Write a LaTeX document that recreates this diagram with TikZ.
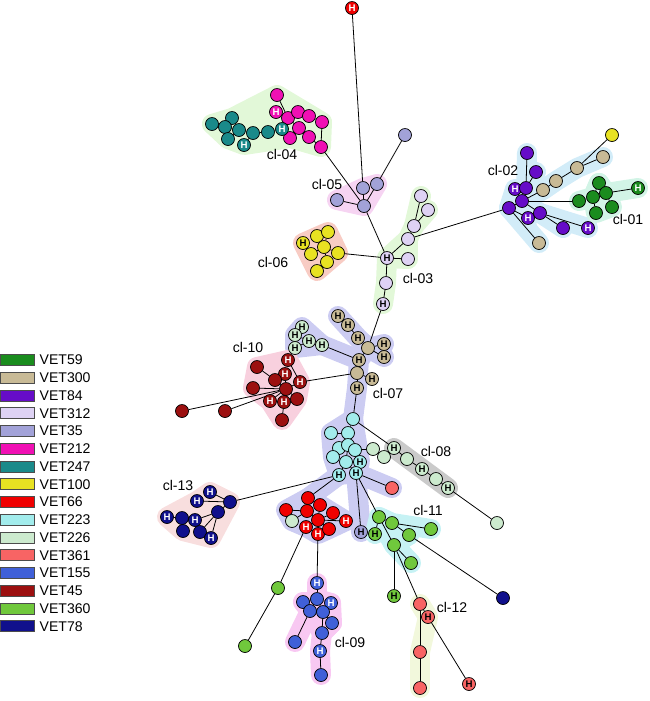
\documentclass[tikz,border=0pt]{standalone}
\usepackage{fontspec}
\setmainfont{Liberation Sans}
\usepackage{tikz}
\usetikzlibrary{positioning}
\definecolor{c59}{RGB}{26,140,30}
\definecolor{c300}{RGB}{200,186,150}
\definecolor{c84}{RGB}{102,12,200}
\definecolor{c312}{RGB}{222,210,244}
\definecolor{c35}{RGB}{162,162,216}
\definecolor{c212}{RGB}{240,16,180}
\definecolor{c247}{RGB}{26,138,138}
\definecolor{c100}{RGB}{232,226,34}
\definecolor{c66}{RGB}{240,0,0}
\definecolor{c223}{RGB}{162,236,236}
\definecolor{c226}{RGB}{204,234,206}
\definecolor{c361}{RGB}{248,100,100}
\definecolor{c155}{RGB}{64,96,216}
\definecolor{c45}{RGB}{156,16,16}
\definecolor{c360}{RGB}{112,200,60}
\definecolor{c78}{RGB}{16,16,140}
% halo colours
\definecolor{hgreen}{RGB}{226,248,216}
\definecolor{hpink}{RGB}{246,212,242}
\definecolor{hred}{RGB}{248,204,196}
\definecolor{hblue}{RGB}{210,236,248}
\definecolor{hmint}{RGB}{210,244,230}
\definecolor{hlav}{RGB}{204,204,242}
\definecolor{hrose}{RGB}{248,208,222}
\definecolor{hgray}{RGB}{202,202,202}
\definecolor{hcyan}{RGB}{198,242,244}
\definecolor{hlime}{RGB}{242,248,220}
\definecolor{hmag}{RGB}{248,200,242}
\definecolor{hsalm}{RGB}{248,222,222}
\newcommand\hlett{\fontsize{5.5}{5.5}\selectfont\bfseries}
\newcommand\cltext{\fontsize{8}{9.6}\selectfont}
\pgfdeclarelayer{halo}
\pgfdeclarelayer{edges}
\pgfsetlayers{halo,edges,main}
\tikzset{
vn/.style={
  circle,
  inner sep=0pt,
  minimum size=2.6mm,
  line width=0.4pt,
  draw=black,
  fill=#1
  },
hw/.style={vn=#1,text=white,font=\hlett},
hb/.style={vn=#1,text=black,font=\hlett},
key/.style={
  rectangle,
  inner sep=0pt,
  minimum width=6.8mm,
  minimum height=2.2mm,
  draw=black!70,
  fill=#1
  },
keytxt/.style={inner sep=0pt,anchor=west,font=\cltext},
cl/.style={inner sep=0pt,font=\cltext},
halo/.style={draw=#1,fill=#1,line width=4mm,line join=round,line cap=round}
}

\begin{document}
\begin{tikzpicture}[x=0.02cm,y=-0.02cm,lnk/.style={draw=black,line width=0.45pt}]
\useasboundingbox (0,0) rectangle (650,701);
% legend
\node[key=c59] (k59) at (17,360) {};
\node[key=c300] (k300) [below=1.21mm of k59] {};
\node[key=c84] (k84) [below=1.21mm of k300] {};
\node[key=c312] (k312) [below=1.21mm of k84] {};
\node[key=c35] (k35) [below=1.21mm of k312] {};
\node[key=c212] (k212) [below=1.21mm of k35] {};
\node[key=c247] (k247) [below=1.21mm of k212] {};
\node[key=c100] (k100) [below=1.21mm of k247] {};
\node[key=c66] (k66) [below=1.21mm of k100] {};
\node[key=c223] (k223) [below=1.21mm of k66] {};
\node[key=c226] (k226) [below=1.21mm of k223] {};
\node[key=c361] (k361) [below=1.21mm of k226] {};
\node[key=c155] (k155) [below=1.21mm of k361] {};
\node[key=c45] (k45) [below=1.21mm of k155] {};
\node[key=c360] (k360) [below=1.21mm of k45] {};
\node[key=c78] (k78) [below=1.21mm of k360] {};
\node[keytxt] (t59) [right=1mm of k59] {VET59};
\node[keytxt] (t300) [right=1mm of k300] {VET300};
\node[keytxt] (t84) [right=1mm of k84] {VET84};
\node[keytxt] (t312) [right=1mm of k312] {VET312};
\node[keytxt] (t35) [right=1mm of k35] {VET35};
\node[keytxt] (t212) [right=1mm of k212] {VET212};
\node[keytxt] (t247) [right=1mm of k247] {VET247};
\node[keytxt] (t100) [right=1mm of k100] {VET100};
\node[keytxt] (t66) [right=1mm of k66] {VET66};
\node[keytxt] (t223) [right=1mm of k223] {VET223};
\node[keytxt] (t226) [right=1mm of k226] {VET226};
\node[keytxt] (t361) [right=1mm of k361] {VET361};
\node[keytxt] (t155) [right=1mm of k155] {VET155};
\node[keytxt] (t45) [right=1mm of k45] {VET45};
\node[keytxt] (t360) [right=1mm of k360] {VET360};
\node[keytxt] (t78) [right=1mm of k78] {VET78};

% top
\node[hw=c66] (top) at (352,8) {H};
% cl-04
\node[vn=c212] (m1) at (277,95) {};
\node[hw=c212] (m2) at (276,112) {H};
\node[vn=c212] (m3) at (288,118) {};
\node[vn=c212] (m4) at (298,112) {};
\node[vn=c212] (m5) at (309,116) {};
\node[vn=c212] (m6) at (322,122) {};
\node[vn=c212] (m7) at (299,128) {};
\node[vn=c212] (m8) at (290,138) {};
\node[vn=c212] (m9) at (309,137) {};
\node[vn=c212] (m10) at (321,147) {};
\node[vn=c247] (g1) at (212,124) {};
\node[vn=c247] (g2) at (232,118) {};
\node[vn=c247] (g3) at (225,127) {};
\node[vn=c247] (g4) at (239,130) {};
\node[vn=c247] (g5) at (228,139) {};
\node[vn=c247] (g6) at (253,133) {};
\node[hw=c247] (g7) at (244,145) {H};
\node[vn=c247] (g8) at (268,132) {};
\node[hw=c247] (g9) at (282,129) {H};
% cl-05
\node[vn=c35] (e1) at (405,135) {};
\node[vn=c35] (e2) at (377,184) {};
\node[vn=c35] (e3) at (363,188) {};
\node[vn=c35] (e4) at (337,200) {};
\node[vn=c35] (e5) at (364,206) {};
% cl-03
\node[vn=c312] (d1) at (421,196) {};
\node[vn=c312] (d2) at (428,210) {};
\node[vn=c312] (d3) at (414,226) {};
\node[vn=c312] (d4) at (408,239) {};
\node[vn=c312] (d5) at (408,259) {};
\node[hb=c312] (d6) at (387,258) {H};
\node[vn=c312] (d7) at (386,283) {};
\node[hb=c312] (d8) at (383,304) {H};
% cl-06
\node[hb=c100] (y1) at (303,243) {H};
\node[vn=c100] (y2) at (317,236) {};
\node[vn=c100] (y3) at (328,232) {};
\node[vn=c100] (y4) at (324,247) {};
\node[vn=c100] (y5) at (311,254) {};
\node[vn=c100] (y6) at (338,253) {};
\node[vn=c100] (y7) at (327,262) {};
\node[vn=c100] (y8) at (317,271) {};
% cl-02
\node[vn=c84] (p1) at (527,153) {};
\node[vn=c84] (p2) at (536,172) {};
\node[hw=c84] (p3) at (515,189) {H};
\node[vn=c84] (p4) at (526,188) {};
\node[vn=c84] (p5) at (522,201) {};
\node[vn=c84] (p6) at (509,208) {};
\node[hw=c84] (p7) at (528,218) {H};
\node[vn=c84] (p8) at (540,213) {};
\node[vn=c84] (p9) at (563,228) {};
\node[hw=c84] (p10) at (588,228) {H};
\node[vn=c300] (b1) at (603,157) {};
\node[vn=c300] (b2) at (577,168) {};
\node[vn=c300] (b3) at (556,181) {};
\node[vn=c300] (b4) at (543,190) {};
\node[vn=c300] (b5) at (539,243) {};
\node[vn=c100] (y9) at (612,135) {};
% cl-01
\node[vn=c59] (f1) at (599,183) {};
\node[vn=c59] (f2) at (593,197) {};
\node[vn=c59] (f3) at (606,193) {};
\node[vn=c59] (f4) at (579,201) {};
\node[vn=c59] (f5) at (596,213) {};
\node[vn=c59] (f6) at (612,207) {};
\node[hw=c59] (f7) at (638,188) {H};
% cl-07
\node[hb=c300] (k1) at (338,316) {H};
\node[hb=c300] (k2) at (348,325) {H};
\node[hb=c300] (k3) at (358,338) {H};
\node[vn=c300] (k4) at (368,348) {};
\node[hb=c300] (k5) at (384,344) {H};
\node[hb=c300] (k6) at (384,357) {H};
\node[hb=c300] (k7) at (359,360) {H};
\node[vn=c300] (k8) at (357,373) {};
\node[hb=c300] (k9) at (372,379) {H};
\node[hb=c300] (k10) at (357,388) {H};
\node[hb=c226] (w1) at (302,327) {H};
\node[hb=c226] (w2) at (295,335) {H};
\node[hb=c226] (w3) at (309,341) {H};
\node[hb=c226] (w4) at (295,348) {H};
\node[hb=c226] (w5) at (322,345) {H};
% cl-10
\node[hw=c45] (r1) at (288,360) {H};
\node[vn=c45] (r2) at (257,367) {};
\node[hw=c45] (r3) at (285,374) {H};
\node[vn=c45] (r4) at (275,380) {};
\node[hw=c45] (r5) at (300,382) {H};
\node[vn=c45] (r6) at (253,388) {};
\node[vn=c45] (r7) at (286,389) {};
\node[hw=c45] (r8) at (270,401) {H};
\node[hw=c45] (r9) at (284,402) {H};
\node[vn=c45] (r10) at (297,399) {};
\node[vn=c45] (r11) at (282,420) {};
\node[vn=c45] (r12) at (182,411) {};
\node[vn=c45] (r13) at (225,411) {};
% cyan group
\node[vn=c223] (c1) at (353,419) {};
\node[vn=c223] (c2) at (331,433) {};
\node[vn=c223] (c3) at (348,433) {};
\node[vn=c223] (c4) at (339,448) {};
\node[vn=c223] (c5) at (348,445) {};
\node[vn=c223] (c6) at (355,450) {};
\node[vn=c223] (c7) at (333,457) {};
\node[vn=c223] (c8) at (346,462) {};
\node[hb=c223] (c9) at (360,462) {H};
\node[hb=c223] (c10) at (356,473) {H};
\node[hb=c223] (c11) at (339,475) {H};
% cl-08
\node[vn=c226] (v1) at (373,449) {};
\node[vn=c226] (v2) at (384,457) {};
\node[hb=c226] (v3) at (394,448) {H};
\node[vn=c226] (v4) at (407,459) {};
\node[hb=c226] (v5) at (422,469) {H};
\node[vn=c226] (v6) at (436,479) {};
\node[hb=c226] (v7) at (448,488) {H};
\node[vn=c226] (v8) at (497,523) {};
% red group
\node[vn=c66] (x1) at (308,498) {};
\node[vn=c66] (x2) at (286,510) {};
\node[vn=c66] (x3) at (307,511) {};
\node[vn=c66] (x4) at (320,505) {};
\node[vn=c66] (x5) at (333,513) {};
\node[vn=c66] (x6) at (318,520) {};
\node[hw=c66] (x7) at (346,521) {H};
\node[hw=c66] (x8) at (306,527) {H};
\node[hw=c66] (x9) at (318,534) {H};
\node[vn=c66] (x10) at (329,529) {};
\node[vn=c226] (w6) at (292,521) {};
\node[hb=c35] (q1) at (361,532) {H};
\node[vn=c361] (s1) at (392,488) {};
% cl-11
\node[vn=c360] (l1) at (379,517) {};
\node[vn=c360] (l2) at (392,523) {};
\node[vn=c360] (l3) at (431,529) {};
\node[vn=c360] (l4) at (409,535) {};
\node[hb=c360] (l5) at (375,534) {H};
\node[vn=c360] (l6) at (394,545) {};
\node[vn=c360] (l7) at (411,563) {};
\node[vn=c360] (l8) at (278,588) {};
\node[vn=c360] (l9) at (245,646) {};
\node[hb=c360] (l10) at (394,596) {H};
\node[vn=c78] (n11) at (503,598) {};
% cl-12
\node[vn=c361] (s2) at (420,604) {};
\node[hb=c361] (s3) at (428,617) {H};
\node[vn=c361] (s4) at (420,652) {};
\node[vn=c361] (s5) at (420,688) {};
\node[hb=c361] (s6) at (469,684) {H};
% cl-09
\node[hw=c155] (u1) at (317,583) {H};
\node[vn=c155] (u2) at (303,602) {};
\node[vn=c155] (u3) at (317,599) {};
\node[hw=c155] (u4) at (331,603) {H};
\node[vn=c155] (u5) at (310,611) {};
\node[vn=c155] (u6) at (323,612) {};
\node[vn=c155] (u7) at (332,623) {};
\node[vn=c155] (u8) at (322,633) {};
\node[vn=c155] (u9) at (295,642) {};
\node[hw=c155] (u10) at (320,651) {H};
\node[vn=c155] (u11) at (321,675) {};
% cl-13
\node[hw=c78] (n1) at (210,492) {H};
\node[hw=c78] (n2) at (197,501) {H};
\node[vn=c78] (n3) at (230,502) {};
\node[vn=c78] (n4) at (218,512) {};
\node[hw=c78] (n5) at (167,517) {H};
\node[vn=c78] (n6) at (182,518) {};
\node[hw=c78] (n7) at (195,520) {H};
\node[vn=c78] (n8) at (183,531) {};
\node[vn=c78] (n9) at (200,532) {};
\node[hw=c78] (n10) at (211,538) {H};

% cluster labels
\node[cl] (L04) at (282,154) {cl-04};
\node[cl] (L05) at (327,184) {cl-05};
\node[cl] (L06) at (273,262) {cl-06};
\node[cl] (L03) at (418,278) {cl-03};
\node[cl] (L02) at (503,170) {cl-02};
\node[cl] (L01) at (628,219) {cl-01};
\node[cl] (L10) at (248,347) {cl-10};
\node[cl] (L07) at (388,393) {cl-07};
\node[cl] (L08) at (436,451) {cl-08};
\node[cl] (L11) at (428,510) {cl-11};
\node[cl] (L12) at (452,607) {cl-12};
\node[cl] (L09) at (350,642) {cl-09};
\node[cl] (L13) at (178,485) {cl-13};

\begin{pgfonlayer}{edges}
\path[lnk]
(top) edge (e3)
(g1) edge (g3) (g2) edge (g3) (g3) edge (g4) (g4) edge (g5) (g4) edge (g6)
(g6) edge (g7) (g6) edge (g8) (g8) edge (g9) (g9) edge (m3)
(m1) edge (m3) (m2) edge (m3) (m3) edge (m4) (m4) edge (m5) (m5) edge (m6)
(m3) edge (m7) (m7) edge (m8) (m7) edge (m9) (m9) edge (m10) (m6) edge (m10)
(m10) edge (e5)
(e1) edge (e2) (e2) edge (e5) (e3) edge (e5) (e4) edge (e5) (e5) edge (d6)
(d1) edge (d3) (d2) edge (d3) (d3) edge (d4) (d4) edge (d6) (d5) edge (d6)
(d6) edge (d7) (d7) edge (d8) (d4) edge (p6) (y6) edge (d6)
(y2) edge (y4) (y3) edge (y4) (y4) edge (y6) (y1) edge (y5) (y4) edge (y5)
(y4) edge (y7) (y7) edge (y8)
(p1) edge (p4) (p2) edge (p4) (p3) edge (p5) (p4) edge (p5) (p5) edge (p6)
(p5) edge (b4) (b4) edge (b3) (b3) edge (b2) (b2) edge (b1) (b2) edge (y9)
(p5) edge (p8) (p8) edge (p9) (p8) edge (p10) (p6) edge (b5) (p6) edge (p7)
(p5) edge (f4)
(f4) edge (f2) (f2) edge (f1) (f2) edge (f3) (f2) edge (f5) (f3) edge (f6)
(f3) edge (f7)
(d8) edge (k4) (k1) edge (k2) (k2) edge (k3) (k3) edge (k4) (k4) edge (k5)
(k4) edge (k6) (k4) edge (k7) (k7) edge (k8) (k8) edge (k9) (k8) edge (k10)
(w1) edge (w2) (w2) edge (w3) (w3) edge (w4) (w3) edge (w5) (w5) edge (k7)
(k8) edge (r5)
(r1) edge (r5) (r5) edge (r7) (r2) edge (r4) (r4) edge (r7) (r3) edge (r7)
(r6) edge (r7) (r12) edge (r7) (r13) edge (r7) (r7) edge (r8) (r7) edge (r9)
(r7) edge (r10) (r9) edge (r11)
(k10) edge (c1) (c1) edge (c3) (c2) edge (c3) (c3) edge (c5) (c5) edge (c4)
(c5) edge (c6) (c4) edge (c7) (c5) edge (c8) (c8) edge (c9) (c8) edge (c10)
(c8) edge (c11)
(c1) edge (v3) (c6) edge (v1) (v2) edge (v3) (v3) edge (v4) (v4) edge (v5)
(v5) edge (v6) (v6) edge (v7) (v7) edge (v8)
(c10) edge (s1) (c10) edge (q1) (c10) edge (l1) (c11) edge (n3) (c11) edge (x1)
(x1) edge (x3) (x2) edge (x3) (x3) edge (x6) (x4) edge (x6) (x5) edge (x6)
(x6) edge (x7) (x6) edge (x8) (x6) edge (x9) (x6) edge (x10) (x3) edge (w6)
(x8) edge (l8) (l8) edge (l9) (x9) edge (u1)
(l1) edge (l2) (l2) edge (l3) (l2) edge (l4) (l1) edge (l5) (l1) edge (l6)
(l6) edge (l7) (l6) edge (l10) (l4) edge (n11) (l6) edge (s2)
(s2) edge (s4) (s4) edge (s5) (s2) edge (s3) (s3) edge (s6)
(u1) edge (u3) (u3) edge (u2) (u3) edge (u5) (u3) edge (u6) (u3) edge (u4)
(u5) edge (u9) (u6) edge (u7) (u6) edge (u8) (u8) edge (u10) (u10) edge (u11)
(n3) edge (n1) (n3) edge (n2) (n3) edge (n4) (n4) edge (n7) (n4) edge (n9)
(n4) edge (n10) (n7) edge (n6) (n6) edge (n5) (n6) edge (n8)
;
\end{pgfonlayer}

\begin{pgfonlayer}{halo}
% cl-04
\filldraw[halo=hgreen] (g1.center) -- (g2.center) -- (m1.center) -- (m6.center)
  -- (m10.center) -- (m8.center) -- (g7.center) -- (g5.center) -- cycle;
% cl-05
\filldraw[halo=hpink] (e4.center) -- (e3.center) -- (e2.center) -- (e5.center) -- cycle;
% cl-03
\draw[halo=hgreen] (d1.center) -- (d3.center) -- (d4.center) -- (d6.center)
  -- (d7.center) -- (d8.center);
\draw[halo=hgreen] (d2.center) -- (d3.center) (d4.center) -- (d5.center) -- (d6.center);
% cl-06
\filldraw[halo=hred] (y1.center) -- (y3.center) -- (y6.center) -- (y8.center) -- cycle;
% cl-02
\draw[halo=hblue] (p1.center) -- (p4.center) -- (p5.center) -- (p6.center) -- (b5.center);
\draw[halo=hblue] (p5.center) -- (b4.center) -- (b3.center) -- (b2.center) -- (b1.center);
\draw[halo=hblue] (p3.center) -- (p6.center) (p5.center) -- (p8.center) -- (p10.center)
  (p8.center) -- (p9.center) (p2.center) -- (p4.center) (p6.center) -- (p7.center);
% cl-01
\draw[halo=hmint] (f4.center) -- (f2.center) -- (f1.center) -- (f3.center) -- (f7.center);
\filldraw[halo=hmint] (f1.center) -- (f3.center) -- (f6.center) -- (f5.center) -- (f2.center) -- cycle;
% cl-07
\draw[halo=hlav] (k1.center) -- (k3.center) -- (k4.center) -- (k5.center)
  (k4.center) -- (k6.center) (k4.center) -- (k7.center) -- (k10.center) -- (c1.center);
\filldraw[halo=hlav] (w1.center) -- (w5.center) -- (w4.center) -- (w2.center) -- cycle;
\draw[halo=hlav] (w5.center) -- (k7.center);
\filldraw[halo=hlav] (c1.center) -- (c2.center) -- (c7.center) -- (c11.center)
  -- (c10.center) -- (c9.center) -- cycle;
\draw[halo=hlav] (c10.center) -- (s1.center) (c10.center) -- (q1.center)
  (c11.center) -- (x1.center);
\filldraw[halo=hlav] (x2.center) -- (x1.center) -- (x4.center) -- (x7.center)
  -- (x10.center) -- (x9.center) -- (x8.center) -- (w6.center) -- cycle;
% cl-10
\filldraw[halo=hrose] (r1.center) -- (r5.center) -- (r10.center) -- (r11.center)
  -- (r8.center) -- (r6.center) -- (r2.center) -- cycle;
% cl-08
\draw[halo=hgray] (v3.center) -- (v7.center);
% cl-11
\draw[halo=hcyan] (l5.center) -- (l1.center) -- (l2.center) -- (l3.center)
  (l2.center) -- (l4.center) (l1.center) -- (l6.center) -- (l7.center);
\filldraw[halo=hcyan] (l1.center) -- (l2.center) -- (l4.center) -- (l6.center) -- cycle;
% cl-12
\draw[halo=hlime] (s2.center) -- (s3.center) -- (s4.center) -- (s5.center);
% cl-09
\draw[halo=hmag] (u1.center) -- (u3.center) -- (u7.center) -- (u8.center)
  -- (u10.center) -- (u11.center) (u3.center) -- (u5.center) -- (u9.center)
  (u3.center) -- (u4.center);
\filldraw[halo=hmag] (u2.center) -- (u4.center) -- (u7.center) -- (u8.center)
  -- (u5.center) -- cycle;
% cl-13
\filldraw[halo=hsalm] (n1.center) -- (n3.center) -- (n10.center) -- (n8.center)
  -- (n5.center) -- (n2.center) -- cycle;
\end{pgfonlayer}
\end{tikzpicture}
\end{document}
